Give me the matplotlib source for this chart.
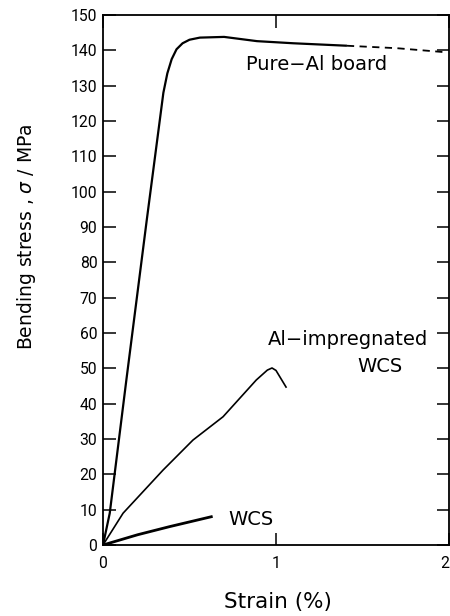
import matplotlib
matplotlib.use("Agg")
import matplotlib.pyplot as plt

# Data (strain %, stress MPa)
pure_al_strain = [0, 0.039, 0.135, 0.253, 0.349, 0.372, 0.397, 0.425, 0.46, 0.50, 0.56, 0.70, 0.89, 1.10, 1.41]
pure_al_stress = [0, 9.0, 46.7, 92.0, 128.0, 133.5, 137.5, 140.3, 142.0, 143.0, 143.6, 143.8, 142.6, 142.0, 141.3]
pure_al_ext_strain = [1.41, 1.70, 1.97]
pure_al_ext_stress = [141.3, 140.6, 139.5]

al_wcs_strain = [0, 0.116, 0.347, 0.52, 0.694, 0.886, 0.95, 0.977, 1.0, 1.058]
al_wcs_stress = [0, 9.0, 21.2, 29.7, 36.3, 46.7, 49.5, 50.1, 49.4, 44.7]

wcs_strain = [0, 0.2, 0.385, 0.626]
wcs_stress = [0, 2.9, 5.2, 8.0]

x_ticks = [0, 1, 2]
y_ticks = list(range(0, 151, 10))

plt.rcParams['font.family'] = ['DejaVu Sans']

fig = plt.figure(figsize=(4.5, 6.16), dpi=100)
ax = fig.add_axes([103/450, 71/616, 346/450, 530/616])

ax.plot(pure_al_strain, pure_al_stress, color='black', lw=1.6, solid_capstyle='butt')
ax.plot(pure_al_ext_strain, pure_al_ext_stress, color='black', lw=1.3, linestyle=(0, (4, 3)))
ax.plot(al_wcs_strain, al_wcs_stress, color='black', lw=1.2)
ax.plot(wcs_strain, wcs_stress, color='black', lw=2.0)

ax.set_xlim(0, 2)
ax.set_ylim(0, 150)
ax.set_xticks(x_ticks)
ax.set_xticklabels([str(t) for t in x_ticks], family='Roboto')
ax.set_yticks(y_ticks)
ax.set_yticklabels([str(t) for t in y_ticks], family='Roboto')
ax.get_xticklabels()[-1].set_horizontalalignment('right')

ax.tick_params(axis='y', direction='in', length=9, width=1.1, labelsize=11.3, pad=4,
               right=True, left=True)
ax.tick_params(axis='x', direction='in', length=9, width=1.1, labelsize=11.3, pad=8,
               top=True, bottom=True)
for s in ax.spines.values():
    s.set_linewidth(1.3)

ax.set_xlabel('Strain (%)', fontsize=15.5)
ax.xaxis.set_label_coords((277.5-103)/346, (545-602)/530)
ax.xaxis.label.set_va('center')
ax.set_ylabel('Bending stress , $\\sigma$ / MPa', fontsize=13.5)
ax.yaxis.set_label_coords((27-103)/346, (545-237)/530)
ax.yaxis.label.set_va('center')

ax.text(1.237, 136.1, 'Pure\u2212Al board', fontsize=14, ha='center', va='center')
ax.text(1.879, 58.3, 'Al\u2212impregnated', fontsize=14, ha='right', va='center')
ax.text(1.60, 50.4, 'WCS', fontsize=14, ha='center', va='center')
ax.text(0.858, 7.1, 'WCS', fontsize=14, ha='center', va='center')

fig.savefig('out.png', dpi=100)
